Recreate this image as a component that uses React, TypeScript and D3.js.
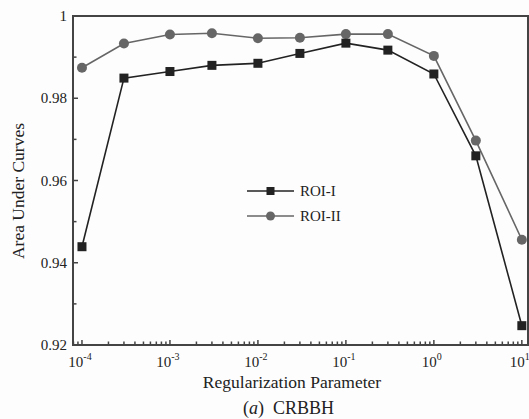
import React, { useEffect, useRef } from "react";
import * as d3 from "d3";

const params = [1e-4, 3e-4, 1e-3, 3e-3, 1e-2, 3e-2, 1e-1, 3e-1, 1, 3, 10];
const roi1 = [0.9439, 0.9849, 0.9865, 0.988, 0.9885, 0.9909, 0.9934, 0.9917, 0.9859, 0.966, 0.9247];
const roi2 = [0.9874, 0.9933, 0.9955, 0.9958, 0.9946, 0.9947, 0.9956, 0.9956, 0.9903, 0.9697, 0.9456];
const yTicks = [0.92, 0.94, 0.96, 0.98, 1];
const yMinor = [0.93, 0.95, 0.97, 0.99];
const xDecades = [-4, -3, -2, -1, 0, 1];
const seriesNames = ["ROI-I", "ROI-II"];

const W = 529;
const H = 419;
const FONT = "'Liberation Serif', 'Times New Roman', serif";

const App = () => {
	const svgRef = useRef<SVGSVGElement>(null);

	useEffect(() => {
		const svg = d3.select(svgRef.current);
		svg.selectAll("*").remove();

		const left = 73, right = 528, top = 16, bottom = 345;
		const x = d3.scaleLog().domain([Math.pow(10, -4.102), Math.pow(10, 1.07)]).range([left, right]);
		const y = d3.scaleLinear().domain([0.92, 1]).range([bottom, top]);

		svg.append("rect").attr("width", W).attr("height", H).attr("fill", "#fdfdfd");

		// frame
		svg.append("rect")
			.attr("x", left).attr("y", top)
			.attr("width", right - left).attr("height", bottom - top)
			.attr("fill", "none").attr("stroke", "#444").attr("stroke-width", 2);

		// y ticks (inside)
		yTicks.forEach((t) => {
			svg.append("line").attr("x1", left).attr("x2", left + 5).attr("y1", y(t)).attr("y2", y(t))
				.attr("stroke", "#444").attr("stroke-width", 1.5);
			svg.append("text")
				.attr("x", left - 6).attr("y", y(t) + 5)
				.attr("text-anchor", "end")
				.style("font-family", FONT).style("font-size", "15px").attr("fill", "#222")
				.text(t === 1 ? "1" : d3.format(".2f")(t));
		});
		yMinor.forEach((t) => {
			svg.append("line").attr("x1", left).attr("x2", left + 3.5).attr("y1", y(t)).attr("y2", y(t))
				.attr("stroke", "#444").attr("stroke-width", 1.5);
		});

		// x ticks (inside)
		const [d0, d1] = x.domain();
		for (let e = -5; e <= 1; e++) {
			for (let m = 1; m <= 9; m++) {
				const v = m * Math.pow(10, e);
				if (v < d0 || v > d1) continue;
				const len = m === 1 ? 5 : 3.5;
				svg.append("line").attr("x1", x(v)).attr("x2", x(v)).attr("y1", bottom).attr("y2", bottom - len)
					.attr("stroke", "#444").attr("stroke-width", 1.5);
			}
		}
		xDecades.forEach((e) => {
			const t = svg.append("text")
				.attr("x", x(Math.pow(10, e)) - 2).attr("y", bottom + 22)
				.attr("text-anchor", "middle")
				.style("font-family", FONT).style("font-size", "15px").attr("fill", "#222");
			t.append("tspan").text("10");
			t.append("tspan").attr("dy", -7).style("font-size", "10px").text(String(e));
		});

		// axis titles
		svg.append("text")
			.attr("transform", `translate(24,191) rotate(-90)`)
			.attr("text-anchor", "middle")
			.style("font-family", FONT).style("font-size", "17.5px").attr("fill", "#222")
			.text("Area Under Curves");
		svg.append("text")
			.attr("x", 292).attr("y", 388)
			.attr("text-anchor", "middle")
			.style("font-family", FONT).style("font-size", "17.5px").attr("fill", "#222")
			.text("Regularization Parameter");
		const cap = svg.append("text")
			.attr("x", 243).attr("y", 414)
			.style("font-family", FONT).style("font-size", "18px").attr("fill", "#222");
		cap.append("tspan").text("(");
		cap.append("tspan").style("font-style", "italic").text("a");
		cap.append("tspan").text(")\u00a0\u00a0CRBBH");

		const line = d3.line<number>().x((d, i) => x(params[i])).y((d) => y(d));

		// ROI-II (gray circles)
		svg.append("path").attr("d", line(roi2)).attr("fill", "none").attr("stroke", "#666").attr("stroke-width", 1.6);
		svg.selectAll(".c2").data(roi2).join("circle")
			.attr("cx", (d, i) => x(params[i])).attr("cy", (d) => y(d)).attr("r", 5).attr("fill", "#666");

		// ROI-I (black squares)
		svg.append("path").attr("d", line(roi1)).attr("fill", "none").attr("stroke", "#222").attr("stroke-width", 1.6);
		svg.selectAll(".s1").data(roi1).join("rect")
			.attr("x", (d, i) => x(params[i]) - 4.5).attr("y", (d) => y(d) - 4.5)
			.attr("width", 9).attr("height", 9).attr("fill", "#222");

		// legend
		const lg = [{ name: seriesNames[0], color: "#222", shape: "square" }, { name: seriesNames[1], color: "#666", shape: "circle" }];
		lg.forEach((s, i) => {
			const ly = 191 + i * 25;
			svg.append("line").attr("x1", 247).attr("x2", 294).attr("y1", ly).attr("y2", ly)
				.attr("stroke", s.color).attr("stroke-width", 1.6);
			if (s.shape === "square") {
				svg.append("rect").attr("x", 270.5 - 4).attr("y", ly - 4).attr("width", 8).attr("height", 8).attr("fill", s.color);
			} else {
				svg.append("circle").attr("cx", 270.5).attr("cy", ly).attr("r", 4.5).attr("fill", s.color);
			}
			svg.append("text").attr("x", 300).attr("y", ly + 5)
				.style("font-family", FONT).style("font-size", "15px").attr("fill", "#222")
				.text(s.name);
		});
	}, []);

	return (
		<div style={{ position: "fixed", left: 0, top: 0 }}>
			<svg ref={svgRef} width={W} height={H} style={{ display: "block" }}></svg>
		</div>
	);
};

export default App;
